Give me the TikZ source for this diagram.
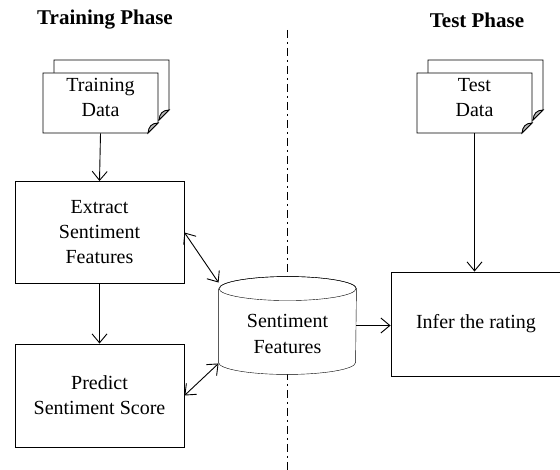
\documentclass[tikz,border=0pt]{standalone}
\usepackage{fontspec}
\setmainfont{Liberation Serif}
\usetikzlibrary{arrows.meta,calc,backgrounds}

% sheet with a curled corner round the centre #1
\newcommand{\sheet}[1]{%
  \filldraw[fill=white,draw=black] ($(#1)+(-57.5,-30)$) -- ($(#1)+(57.5,-30)$) -- ($(#1)+(57.5,20)$)
    -- ($(#1)+(47.5,30)$) -- ($(#1)+(-57.5,30)$) -- cycle;
  \filldraw[fill=gray!55,draw=black] ($(#1)+(57.5,20)$) .. controls ($(#1)+(51,20)$) and ($(#1)+(48,24)$) .. ($(#1)+(47.5,30)$) -- cycle;
}

\begin{document}
\begin{tikzpicture}[x=1pt,y=-1pt,line width=0.9pt,
  >={Straight Barb[length=9pt,width=15pt]},
  font=\fontsize{20}{25}\selectfont,
  head/.style={font=\bfseries\fontsize{21}{24}\selectfont},
  datanode/.style={minimum width=115pt,minimum height=60pt,text depth=12pt,align=center,inner sep=0pt},
  stage/.style={draw,minimum width=169pt,minimum height=102pt,align=center}]
  \useasboundingbox (0,0) rectangle (560,470);

  \coordinate (trainpos) at (100.5,103);
  \coordinate (testpos) at (474.5,103);
  \sheet{$(trainpos)+(11,-13)$}
  \sheet{trainpos}
  \sheet{$(testpos)+(11,-13)$}
  \sheet{testpos}

  \node[head] (trainhead) at (105,20) {Training Phase};
  \node[head] (testhead) at (477,20) {Test Phase};

  \node[datanode] (traindata) at (trainpos) {Training\\Data};
  \node[datanode] (testdata) at (testpos) {Test\\Data};

  \node[stage] (extract) at (99.5,232.5) {Extract\\Sentiment\\Features};
  \node[stage,minimum height=103pt] (predict) at (99.5,395.5) {Predict\\Sentiment Score};
  \node[stage,minimum width=170pt,minimum height=104pt] (infer) at (476,324) {Infer the rating};

  \node[minimum width=137pt,minimum height=97pt,text height=56pt,align=center,
    font=\fontsize{20}{26}\selectfont] (feat) at (287.5,325.5) {Sentiment\\Features};

  \begin{scope}[on background layer,line width=0.9pt]
    \draw[line width=0.8pt,dash pattern=on 8pt off 4pt on 2pt off 4pt] (287,30) -- (287,470);
    \filldraw[fill=white] ($(feat.north west)+(0,12)$) -- ($(feat.south west)+(0,-12)$)
      arc[start angle=180,end angle=0,x radius=68.5,y radius=12]
      -- ($(feat.north east)+(0,12)$)
      arc[start angle=0,end angle=-180,x radius=68.5,y radius=12];
    \draw ($(feat.north)+(0,12)$) ellipse [x radius=68.5,y radius=12];
  \end{scope}

  \draw[->] (traindata.south) -- (extract.north);
  \draw[->] (extract.south) -- (predict.north);
  \draw[->] (testdata.south) -- (testdata.south |- infer.north);
  \draw[<->] (extract.east) -- ($(feat.north west)+(0,6)$);
  \draw[<->] (predict.east) -- ($(feat.south west)+(0,-11)$);
  \draw[->] (feat.east) -- (feat.east -| infer.west);
\end{tikzpicture}
\end{document}
